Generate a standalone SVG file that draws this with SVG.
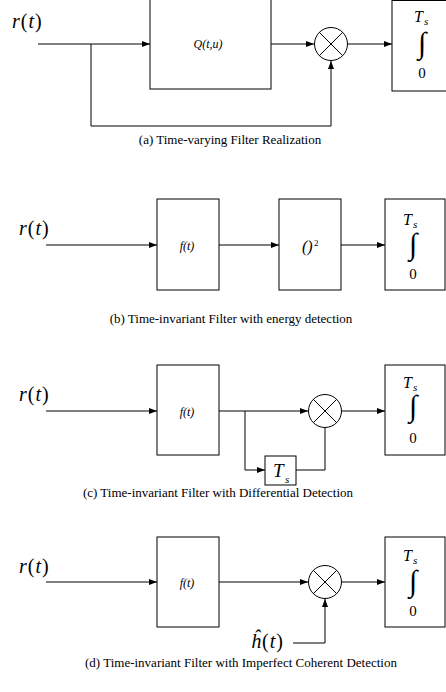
<svg xmlns="http://www.w3.org/2000/svg" width="446" height="692" viewBox="0 0 446 692">
<defs>
<marker id="ah" markerWidth="8" markerHeight="6" refX="8" refY="3" orient="auto" markerUnits="userSpaceOnUse"><path d="M0,0 L8,3 L0,6 z" fill="#000"/></marker>
<style>
.box{fill:#fff;stroke:#000;stroke-width:1}
.ln{fill:none;stroke:#000;stroke-width:1}
.ar{fill:none;stroke:#000;stroke-width:1;marker-end:url(#ah)}
text{font-family:"Liberation Serif","Times New Roman",serif;fill:#000}
.it{font-style:italic}
.cap{font-size:13px;text-anchor:middle}
.sig{font-size:20px}
.lbl{font-size:12px;font-style:italic;text-anchor:middle}
.T{font-size:16px;font-style:italic}
.s{font-size:11px;font-style:italic}
.int{font-size:30px;text-anchor:middle}
.zero{font-size:15px;text-anchor:middle}
</style>
</defs>
<rect width="446" height="692" fill="#fff"/>

<g id="connectors">
<!-- a -->
<line class="ar" x1="38" y1="44" x2="150" y2="44"/>
<polyline class="ar" points="91,44 91,126 331,126 331,61"/>
<line class="ar" x1="271" y1="44" x2="314" y2="44"/>
<line class="ar" x1="348" y1="44" x2="392" y2="44"/>
<!-- b -->
<line class="ar" x1="46" y1="245" x2="157" y2="245"/>
<line class="ar" x1="219" y1="245" x2="279" y2="245"/>
<line class="ar" x1="341" y1="245" x2="385" y2="245"/>
<!-- c -->
<line class="ar" x1="46" y1="411" x2="157" y2="411"/>
<line class="ar" x1="219" y1="411" x2="308" y2="411"/>
<polyline class="ar" points="245,411 245,470 265,470"/>
<polyline class="ln" points="296,470 325,470 325,428"/>
<line class="ar" x1="342" y1="411" x2="385" y2="411"/>
<!-- d -->
<line class="ar" x1="46" y1="582" x2="157" y2="582"/>
<line class="ar" x1="219" y1="582" x2="308" y2="582"/>
<polyline class="ar" points="293,643 325,643 325,599"/>
<line class="ar" x1="342" y1="582" x2="385" y2="582"/>
</g>

<!-- Panel a -->
<g id="a-input"><text class="sig" x="12" y="28" letter-spacing="1"><tspan class="it">r</tspan>(<tspan class="it">t</tspan>)</text></g>
<g id="a-Q"><rect class="box" x="150" y="-2" width="121" height="91"/><text class="lbl" x="208" y="48">Q(t,u)</text></g>
<g id="a-mult"><circle class="box" cx="331" cy="44" r="16.5"/><path class="ln" d="M319.3,32.3 L342.7,55.7 M342.7,32.3 L319.3,55.7"/></g>
<g id="a-int"><rect class="box" x="392" y="0.5" width="56" height="90.5"/><text class="T" x="414" y="22">T</text><text class="s" x="424" y="25">s</text><text class="int" x="422" y="53">∫</text><text class="zero" x="422" y="78">0</text></g>
<g id="a-cap"><text class="cap" x="230" y="144">(a) Time-varying Filter Realization</text></g>

<!-- Panel b -->
<g id="b-input"><text class="sig" x="19" y="235" letter-spacing="1"><tspan class="it">r</tspan>(<tspan class="it">t</tspan>)</text></g>
<g id="b-f"><rect class="box" x="157" y="199" width="62" height="91"/><text class="lbl" x="187" y="250" font-size="11">f(t)</text></g>
<g id="b-sq"><rect class="box" x="279" y="199" width="62" height="91"/><text x="302" y="252" font-size="16" class="it">()</text><text x="314" y="246" font-size="9">2</text></g>
<g id="b-int"><rect class="box" x="385" y="199" width="60" height="91"/><text class="T" x="403" y="225">T</text><text class="s" x="413" y="228">s</text><text class="int" x="413" y="254">∫</text><text class="zero" x="413" y="279">0</text></g>
<g id="b-cap"><text class="cap" x="231" y="323">(b) Time-invariant Filter with energy detection</text></g>

<!-- Panel c -->
<g id="c-input"><text class="sig" x="19" y="401" letter-spacing="1"><tspan class="it">r</tspan>(<tspan class="it">t</tspan>)</text></g>
<g id="c-f"><rect class="box" x="157" y="365" width="62" height="90"/><text class="lbl" x="187" y="416" font-size="11">f(t)</text></g>
<g id="c-delay"><rect class="box" x="265" y="456" width="31" height="29"/><text x="273" y="477" font-size="19" class="it">T</text><text x="285" y="483" font-size="11" class="it">s</text></g>
<g id="c-mult"><circle class="box" cx="325" cy="411" r="16.5"/><path class="ln" d="M313.3,399.3 L336.7,422.7 M336.7,399.3 L313.3,422.7"/></g>
<g id="c-int"><rect class="box" x="385" y="365" width="60" height="90"/><text class="T" x="403" y="388">T</text><text class="s" x="413" y="391">s</text><text class="int" x="413" y="416">∫</text><text class="zero" x="413" y="443">0</text></g>
<g id="c-cap"><text class="cap" x="218" y="497">(c) Time-invariant Filter with Differential Detection</text></g>

<!-- Panel d -->
<g id="d-input"><text class="sig" x="19" y="573" letter-spacing="1"><tspan class="it">r</tspan>(<tspan class="it">t</tspan>)</text></g>
<g id="d-f"><rect class="box" x="157" y="537" width="62" height="90"/><text class="lbl" x="187" y="587" font-size="11">f(t)</text></g>
<g id="d-mult"><circle class="box" cx="325" cy="582" r="16.5"/><path class="ln" d="M313.3,570.3 L336.7,593.7 M336.7,570.3 L313.3,593.7"/></g>
<g id="d-h"><text class="sig" x="251" y="648" letter-spacing="1"><tspan class="it">ĥ</tspan>(<tspan class="it">t</tspan>)</text></g>
<g id="d-int"><rect class="box" x="385" y="537" width="60" height="90"/><text class="T" x="403" y="561">T</text><text class="s" x="413" y="564">s</text><text class="int" x="413" y="591">∫</text><text class="zero" x="413" y="616">0</text></g>
<g id="d-cap"><text class="cap" x="241" y="667">(d) Time-invariant Filter with Imperfect Coherent Detection</text></g>
</svg>
